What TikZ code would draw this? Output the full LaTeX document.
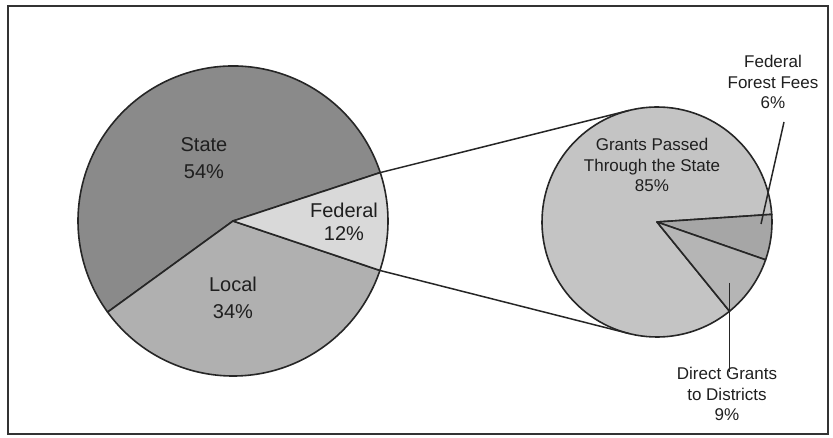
\documentclass[tikz,border=0pt]{standalone}
\usepackage{fontspec}
\setmainfont{Liberation Sans}
\usepackage{xcolor}
\usepackage{tikz}

\definecolor{statecol}{gray}{0.54}
\definecolor{localcol}{gray}{0.69}
\definecolor{federalcol}{gray}{0.85}
\definecolor{passedcol}{gray}{0.77}
\definecolor{forestcol}{gray}{0.65}
\definecolor{directcol}{gray}{0.71}
\definecolor{labelcol}{gray}{0.12}

\begin{document}
\begin{tikzpicture}[
    x=1pt, y=1pt,
    slice/.style={
        draw=black!85,
        line width=1.6pt,
        line join=round
    },
    bigtext/.style={
        align=center,
        text=labelcol,
        inner sep=1pt,
        font=\fontsize{20}{27}\selectfont
    },
    smalltext/.style={
        align=center,
        text=labelcol,
        inner sep=1pt,
        font=\fontsize{17}{20.5}\selectfont
    },
    link/.style={draw=black!85, line width=1.5pt}
]
\useasboundingbox (0,0) rectangle (833,437);
\draw[line width=1.5pt, black!80] (8,3) rectangle (828,431);

% Left pie
\coordinate (left) at (233,216);
\filldraw[slice, fill=statecol] (left) -- ([shift={(18.2:155)}]left)
    arc[start angle=18.2, end angle=216, radius=155] -- cycle;
\filldraw[slice, fill=localcol] (left) -- ([shift={(216:155)}]left)
    arc[start angle=216, end angle=341.4, radius=155] -- cycle;
\filldraw[slice, fill=federalcol] (left) -- ([shift={(341.4:155)}]left)
    arc[start angle=341.4, end angle=378.2, radius=155] -- cycle;

\node[bigtext] (state) at (204,278.5) {State\\54\%};
\node[bigtext] (federal) at (344,215.5) {Federal\\[-4pt]12\%};
\node[bigtext] (local) at (233,139.5) {Local\\34\%};

% Right pie
\coordinate (right) at (657,215);
\filldraw[slice, fill=passedcol] (right) -- ([shift={(3.8:115)}]right)
    arc[start angle=3.8, end angle=309.1, radius=115] -- cycle;
\filldraw[slice, fill=forestcol] (right) -- ([shift={(-19.2:115)}]right)
    arc[start angle=-19.2, end angle=3.8, radius=115] -- cycle;
\filldraw[slice, fill=directcol] (right) -- ([shift={(-50.9:115)}]right)
    arc[start angle=-50.9, end angle=-19.2, radius=115] -- cycle;

\node[smalltext] (passed) at (652,272) {Grants Passed\\Through the State\\85\%};
\node[smalltext] (forest) at (773,355) {Federal\\Forest Fees\\6\%};
\node[smalltext] (direct) at (727,43) {Direct Grants\\to Districts\\9\%};

% Zoom lines
\coordinate (lefttop) at ([shift={(18.2:155)}]left);
\coordinate (leftbot) at ([shift={(-18.6:155)}]left);
\coordinate (righttop) at ([shift={(104:115)}]right);
\coordinate (rightbot) at ([shift={(-104:115)}]right);
\draw[link] (lefttop) -- (righttop);
\draw[link] (leftbot) -- (rightbot);

% Leaders
\coordinate (forestpt) at (761,213);
\coordinate (forestend) at (784,315);
\coordinate (directpt) at (729.5,154);
\coordinate (directend) at (729.5,65);
\draw[link] (forestpt) -- (forestend);
\draw[link] (directpt) -- (directend);

\end{tikzpicture}
\end{document}
